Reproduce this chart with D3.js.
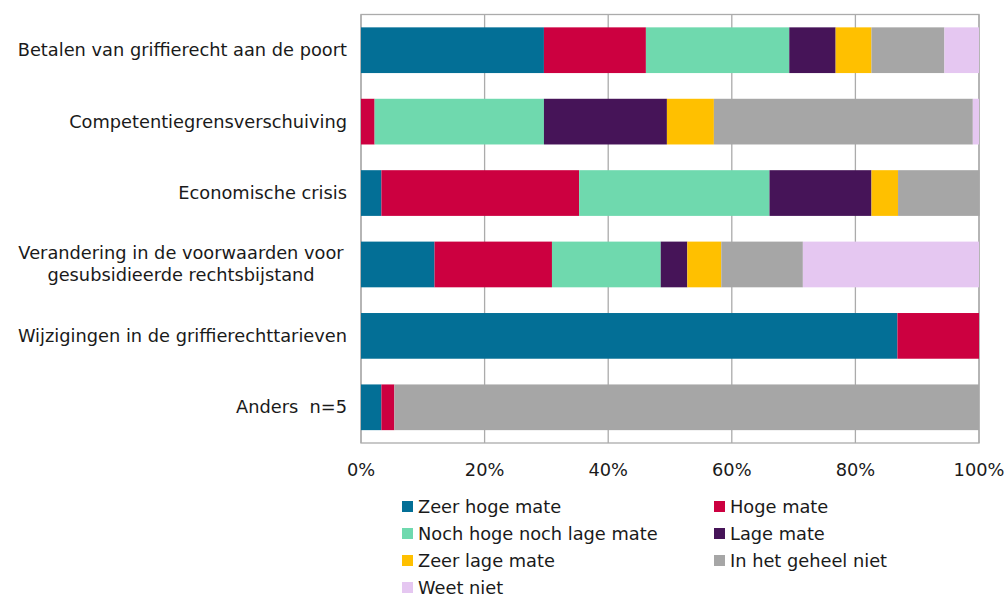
<html>
    <head>
        <title>Oorzaken</title>
        <style>
            body { margin: 0; background: #fff; }
            .chart text {
                fill: #1a1a1a;
                font-size: 17.8px;
                font-family: "DejaVu Sans", Verdana, sans-serif;
                white-space: pre;
            }
            .chart .grid line { stroke: #ababab; stroke-width: 1.3; }
            .chart .frame { fill: none; stroke: #ababab; stroke-width: 1.3; }
        </style>
    </head>
    <body>
        <svg class="chart" width="1008" height="598"></svg>
        <script src="https://cdnjs.cloudflare.com/ajax/libs/d3/7.8.5/d3.min.js"></script>
        <script>
            var categories = [
                "Betalen van griffierecht aan de poort",
                "Competentiegrensverschuiving",
                "Economische crisis",
                "Verandering in de voorwaarden voor|gesubsidieerde rechtsbijstand",
                "Wijzigingen in de griffierechttarieven",
                "Anders  n=5"
            ];
            var seriesNames = ["Zeer hoge mate", "Hoge mate", "Noch hoge noch lage mate", "Lage mate",
                               "Zeer lage mate", "In het geheel niet", "Weet niet"];
            var colors = ["#036f96", "#cc0040", "#6fd9ae", "#461458", "#ffc000", "#a6a6a6", "#e5c7f1"];

            // percentages per series, one value per category
            var zeerHoog   = [29.6, 0,    3.3,  11.9, 86.8, 3.3];
            var hoog       = [16.5, 2.2,  32.0, 19.0, 13.2, 2.1];
            var noch       = [23.2, 27.4, 30.8, 17.6, 0,    0];
            var laag       = [7.5,  19.9, 16.5, 4.3,  0,    0];
            var zeerLaag   = [5.8,  7.6,  4.3,  5.5,  0,    0];
            var geheelNiet = [11.8, 41.9, 13.2, 13.2, 0,    94.6];
            var weetNiet   = [5.6,  1.0,  0,    28.5, 0,    0];
            var ticks = [0, 20, 40, 60, 80, 100];

            var seriesValues = [zeerHoog, hoog, noch, laag, zeerLaag, geheelNiet, weetNiet];

            var plotLeft = 361, plotRight = 979, plotTop = 14.5, plotBottom = 443;

            var x = d3.scaleLinear().domain([0, 100]).range([plotLeft, plotRight]);
            var y = d3.scaleBand().domain(categories).range([plotTop, plotBottom])
                .paddingInner(0.36).paddingOuter(0.18);

            var chart = d3.select('.chart');

            // rows for stacking
            var rows = categories.map(function(c, i) {
                var r = { cat: c };
                seriesNames.forEach(function(s, j) { r[s] = seriesValues[j][i]; });
                return r;
            });
            var stack = d3.stack().keys(seriesNames)(rows);

            // gridlines
            chart.append('g').attr('class', 'grid')
                .selectAll('line').data(ticks).enter().append('line')
                .attr('x1', function(d) { return x(d); })
                .attr('x2', function(d) { return x(d); })
                .attr('y1', plotTop).attr('y2', plotBottom);

            chart.append('rect').attr('class', 'frame')
                .attr('x', plotLeft).attr('y', plotTop)
                .attr('width', plotRight - plotLeft).attr('height', plotBottom - plotTop);

            chart.append('g').selectAll('g')
                .data(stack).enter().append('g')
                .style('fill', function(d, i) { return colors[i]; })
                .selectAll('rect')
                .data(function(d) { return d; })
                .enter().append('rect')
                .attr('x', function(d) { return x(d[0]); })
                .attr('width', function(d) { return x(d[1]) - x(d[0]); })
                .attr('y', function(d) { return y(d.data.cat); })
                .attr('height', y.bandwidth());

            // category labels
            var labels = chart.append('g').selectAll('text')
                .data(categories).enter().append('text')
                .attr('text-anchor', 'middle')
                .attr('transform', function(d) {
                    var lines = d.split('|');
                    return 'translate(0,' + (y(d) + y.bandwidth() / 2 + 6 - (lines.length - 1) * 11) + ')';
                });
            labels.each(function(d) {
                var lines = d.split('|');
                var t = d3.select(this);
                if (lines.length == 1) {
                    t.attr('text-anchor', 'end').append('tspan').attr('x', plotLeft - 14).text(lines[0]);
                } else {
                    lines.forEach(function(l, k) {
                        t.append('tspan').attr('x', 181).attr('dy', k == 0 ? 0 : 22).text(l);
                    });
                }
            });

            // x axis labels
            chart.append('g').selectAll('text')
                .data(ticks).enter().append('text')
                .attr('text-anchor', 'middle')
                .attr('x', function(d) { return x(d); })
                .attr('y', 476)
                .text(function(d) { return d + '%'; });

            // legend
            var legend = chart.append('g').selectAll('g')
                .data(seriesNames).enter().append('g')
                .attr('transform', function(d, i) {
                    return 'translate(' + (i % 2 == 0 ? 402 : 714) + ',' + (507 + Math.floor(i / 2) * 27) + ')';
                });
            legend.append('rect')
                .attr('x', 0).attr('y', -6).attr('width', 11).attr('height', 11)
                .style('fill', function(d, i) { return colors[i]; });
            legend.append('text')
                .attr('x', 16).attr('y', 6)
                .text(function(d) { return d; });
        </script>
    </body>
</html>
